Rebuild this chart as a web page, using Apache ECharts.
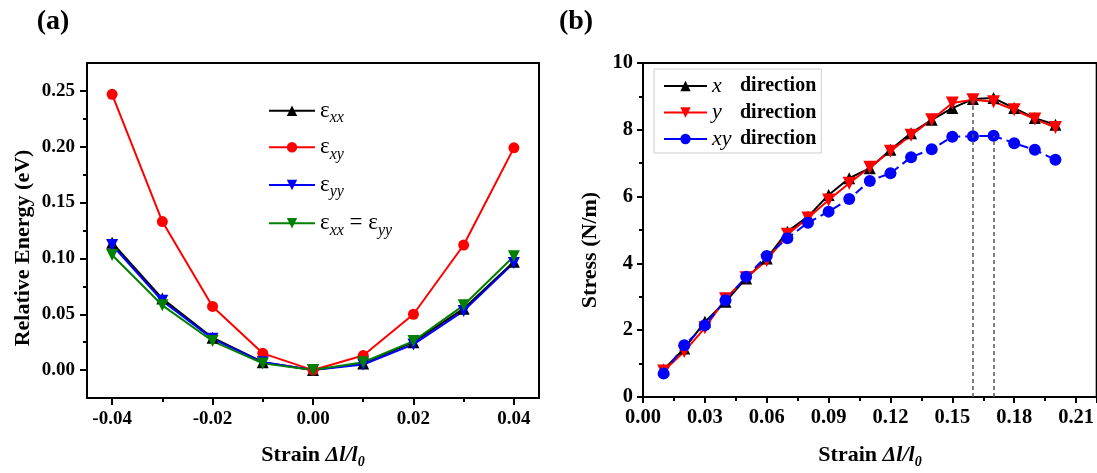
<!DOCTYPE html>
<html>
<head>
<meta charset="utf-8">
<script src="https://cdn.jsdelivr.net/npm/echarts@6/dist/echarts.min.js"></script>
<style>html,body{margin:0;padding:0;background:#fff;}#c{width:1097px;height:473px;}</style>
</head>
<body>
<div id="c"></div>
<script>
// ---- Panel (a): relative energy vs strain ----
var strainA = [-0.04, -0.03, -0.02, -0.01, 0.00, 0.01, 0.02, 0.03, 0.04];
var eXX   = [0.114, 0.064, 0.029, 0.007, 0.000, 0.006, 0.025, 0.055, 0.097];
var eXY   = [0.247, 0.133, 0.057, 0.015, 0.000, 0.013, 0.050, 0.112, 0.199];
var eYY   = [0.112, 0.062, 0.028, 0.007, 0.000, 0.005, 0.023, 0.053, 0.096];
var eXXYY = [0.103, 0.058, 0.026, 0.006, 0.000, 0.007, 0.026, 0.058, 0.102];
var aXMajor = [-0.04, -0.02, 0.00, 0.02, 0.04];
var aXMinor = [-0.03, -0.01, 0.01, 0.03];
var aYMajor = [0.00, 0.05, 0.10, 0.15, 0.20, 0.25];
var aYMinor = [0.025, 0.075, 0.125, 0.175, 0.225];

// ---- Panel (b): stress vs strain ----
var strainB = [0.01,0.02,0.03,0.04,0.05,0.06,0.07,0.08,0.09,0.10,0.11,0.12,0.13,0.14,0.15,0.16,0.17,0.18,0.19,0.20];
var sX  = [0.82,1.45,2.25,2.85,3.55,4.15,4.95,5.40,6.05,6.55,6.85,7.40,7.90,8.30,8.65,8.92,8.95,8.65,8.35,8.15];
var sY  = [0.78,1.36,2.07,2.94,3.57,4.09,4.87,5.36,5.90,6.40,6.88,7.36,7.84,8.30,8.80,8.90,8.84,8.60,8.32,8.07];
var sXY = [0.70,1.55,2.15,2.90,3.60,4.22,4.75,5.22,5.55,5.93,6.47,6.70,7.18,7.42,7.79,7.81,7.82,7.60,7.40,7.10];
var dropX = [0.16, 0.17];
var dropTop = [8.90, 7.82];

var SERIF = '"Liberation Serif","Times New Roman",serif';
var downTri = 'path://M0,0 L10,0 L5,9 Z';
var upTri = 'path://M5,0 L10,9 L0,9 Z';

function zip(xs, ys){ return xs.map(function(x,i){ return [x, ys[i]]; }); }

var subRich = {
  e: {fontFamily: SERIF, fontSize: 23, lineHeight: 30, color: '#000'},
  s: {fontFamily: SERIF, fontSize: 16, fontStyle: 'italic', lineHeight: 10, verticalAlign: 'bottom', color: '#000'}
};
var legNames = ['εxx', 'εxy', 'εyy', 'εxx = εyy'];
var legFmt = {
  'εxx': '{e|ε}{s|xx}',
  'εxy': '{e|ε}{s|xy}',
  'εyy': '{e|ε}{s|yy}',
  'εxx = εyy': '{e|ε}{s|xx}{e| = ε}{s|yy}'
};
var legCenters = [110.7, 147.3, 185, 223.3];

var legendsA = legNames.map(function(n, i){
  return {
    data: [n], left: 268, top: legCenters[i] - 15, padding: 0,
    itemWidth: 46, itemHeight: 13, itemGap: 0,
    formatter: function(name){ return legFmt[name]; },
    textStyle: {lineHeight: 30, rich: subRich}
  };
});
var legendB = {
  data: ['x direction', 'y direction', 'xy direction'],
  orient: 'vertical', left: 654, top: 69,
  padding: [6,5,3,9], borderColor: '#cfcfcf', borderWidth: 1,
  itemWidth: 43, itemHeight: 13, itemGap: 4.5,
  lineStyle: {type: 'solid'},
  formatter: function(name){
    var p = name.split(' ');
    return '{i|' + p[0] + '}{b|' + p[1] + '}';
  },
  textStyle: {
    lineHeight: 22,
    rich: {
      i: {fontFamily: SERIF, fontSize: 22, fontStyle: 'italic', width: 28, lineHeight: 22, color: '#000'},
      b: {fontFamily: SERIF, fontSize: 20, fontWeight: 'bold', lineHeight: 22, color: '#000'}
    }
  }
};

var labelA = {fontFamily: SERIF, fontSize: 19, fontWeight: 'bold', color: '#000'};
var labelB = {fontFamily: SERIF, fontSize: 20.5, fontWeight: 'bold', color: '#000'};
var axLine = {show: true, onZero: false, lineStyle: {color: '#000', width: 2}};
var noLine = {show: false, onZero: false};

var titleRich = {
  a: {fontFamily: SERIF, fontSize: 22, fontWeight: 'bold', lineHeight: 28, color: '#000'},
  b: {fontFamily: SERIF, fontSize: 22, fontWeight: 'bold', fontStyle: 'italic', lineHeight: 28, color: '#000'},
  c: {fontFamily: SERIF, fontSize: 14, fontWeight: 'bold', fontStyle: 'italic', lineHeight: 14, verticalAlign: 'bottom', color: '#000'}
};

var option = {
  backgroundColor: '#fff',
  animation: false,
  legend: legendsA.concat([legendB]),
  grid: [
    {left: 87, top: 63, width: 452, height: 335, show: true, borderColor: '#000', borderWidth: 2, backgroundColor: 'transparent'},
    {left: 643, top: 63, width: 456, height: 334, show: true, borderColor: '#000', borderWidth: 2, backgroundColor: 'transparent'}
  ],
  xAxis: [
    {type: 'value', gridIndex: 0, min: -0.045, max: 0.045, position: 'bottom',
     axisLine: axLine, splitLine: {show: false},
     axisTick: {show: true, customValues: aXMajor, length: 7, lineStyle: {color: '#000', width: 2}},
     axisLabel: {customValues: aXMajor, margin: 12, formatter: function(v){ return v.toFixed(2); }, textStyle: labelA}},
    {type: 'value', gridIndex: 0, min: -0.045, max: 0.045, position: 'bottom',
     axisLine: noLine, splitLine: {show: false}, axisLabel: {show: false},
     axisTick: {show: true, customValues: aXMinor, length: 4, lineStyle: {color: '#000', width: 2}}},
    {type: 'value', gridIndex: 1, min: 0, max: 0.22, interval: 0.03, position: 'bottom',
     axisLine: axLine, splitLine: {show: false},
     axisTick: {show: true, length: 6, lineStyle: {color: '#000', width: 2}},
     minorTick: {show: true, splitNumber: 2, length: 4, lineStyle: {color: '#000', width: 2}},
     axisLabel: {margin: 10, showMaxLabel: false, formatter: function(v){ return v.toFixed(2); }, textStyle: labelB}}
  ],
  yAxis: [
    {type: 'value', gridIndex: 0, min: -0.025, max: 0.275, position: 'left',
     axisLine: axLine, splitLine: {show: false},
     axisTick: {show: true, customValues: aYMajor, length: 7, lineStyle: {color: '#000', width: 2}},
     axisLabel: {customValues: aYMajor, margin: 12, formatter: function(v){ return v.toFixed(2); }, textStyle: labelA}},
    {type: 'value', gridIndex: 0, min: -0.025, max: 0.275, position: 'left',
     axisLine: noLine, splitLine: {show: false}, axisLabel: {show: false},
     axisTick: {show: true, customValues: aYMinor, length: 4, lineStyle: {color: '#000', width: 2}}},
    {type: 'value', gridIndex: 1, min: 0, max: 10, interval: 2, position: 'left',
     axisLine: axLine, splitLine: {show: false},
     axisTick: {show: true, length: 6, lineStyle: {color: '#000', width: 2}},
     minorTick: {show: true, splitNumber: 2, length: 4, lineStyle: {color: '#000', width: 2}},
     axisLabel: {margin: 10, formatter: function(v){ return String(v); }, textStyle: labelB}}
  ],
  series: [
    {name: 'εxx', type: 'line', xAxisIndex: 0, yAxisIndex: 0, data: zip(strainA, eXX),
     symbol: upTri, symbolSize: 12, color: '#000', lineStyle: {width: 2, color: '#000'}, itemStyle: {color: '#000'}},
    {name: 'εxy', type: 'line', xAxisIndex: 0, yAxisIndex: 0, data: zip(strainA, eXY),
     symbol: 'circle', symbolSize: 11, color: '#ff0000', lineStyle: {width: 2, color: '#ff0000'}, itemStyle: {color: '#ff0000'}},
    {name: 'εyy', type: 'line', xAxisIndex: 0, yAxisIndex: 0, data: zip(strainA, eYY),
     symbol: downTri, symbolSize: 12, color: '#0000ff', lineStyle: {width: 2, color: '#0000ff'}, itemStyle: {color: '#0000ff'}},
    {name: 'εxx = εyy', type: 'line', xAxisIndex: 0, yAxisIndex: 0, data: zip(strainA, eXXYY),
     symbol: downTri, symbolSize: 12, color: '#008000', lineStyle: {width: 2, color: '#008000'}, itemStyle: {color: '#008000'}},

    {name: 'x direction', type: 'line', xAxisIndex: 2, yAxisIndex: 2, data: zip(strainB, sX),
     symbol: upTri, symbolSize: 12, color: '#000', lineStyle: {width: 2, color: '#000'}, itemStyle: {color: '#000'}},
    {name: 'y direction', type: 'line', xAxisIndex: 2, yAxisIndex: 2, data: zip(strainB, sY),
     symbol: downTri, symbolSize: 13, color: '#ff0000', lineStyle: {width: 2, color: '#ff0000'}, itemStyle: {color: '#ff0000'}},
    {name: 'xy direction', type: 'line', xAxisIndex: 2, yAxisIndex: 2, data: zip(strainB, sXY),
     symbol: 'circle', symbolSize: 12, color: '#0000ff', lineStyle: {width: 2, color: '#0000ff', type: [9,5]}, itemStyle: {color: '#0000ff'},
     markLine: {silent: true, symbol: ['none','none'], label: {show: false},
       lineStyle: {color: '#555', width: 1.5, type: [4,3]},
       data: dropX.map(function(x,i){ return [{coord: [x, 0]}, {coord: [x, dropTop[i]]}]; })}}
  ],
  graphic: [
    {type: 'text', x: 53, y: 22, style: {text: '(a)', font: 'bold 28px ' + SERIF, fill: '#000', align: 'center', verticalAlign: 'middle'}},
    {type: 'text', x: 576, y: 22, style: {text: '(b)', font: 'bold 28px ' + SERIF, fill: '#000', align: 'center', verticalAlign: 'middle'}},
    {type: 'text', x: 23, y: 248, rotation: Math.PI/2, style: {text: 'Relative Energy (eV)', font: 'bold 22px ' + SERIF, fill: '#000', align: 'center', verticalAlign: 'middle'}},
    {type: 'text', x: 590, y: 250, rotation: Math.PI/2, style: {text: 'Stress (N/m)', font: 'bold 22px ' + SERIF, fill: '#000', align: 'center', verticalAlign: 'middle'}},
    {type: 'text', x: 313, y: 455, style: {text: '{a|Strain }{b|Δl/l}{c|0}', rich: titleRich, align: 'center', verticalAlign: 'middle'}},
    {type: 'text', x: 870, y: 455, style: {text: '{a|Strain }{b|Δl/l}{c|0}', rich: titleRich, align: 'center', verticalAlign: 'middle'}}
  ]
};

var chart = echarts.init(document.getElementById('c'), null, {renderer: 'canvas'});
chart.setOption(option);
</script>
</body>
</html>
